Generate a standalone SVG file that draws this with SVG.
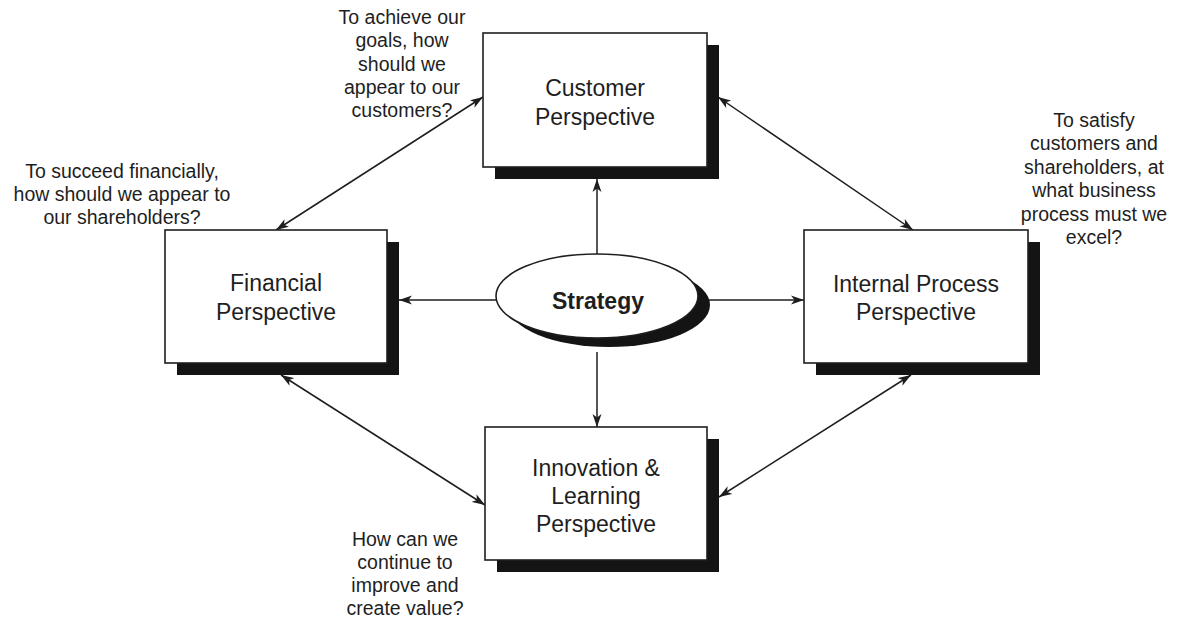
<svg xmlns="http://www.w3.org/2000/svg" width="1181" height="618" viewBox="0 0 1181 618">
  <style>
    .box { fill: #ffffff; stroke: #1e1e1e; stroke-width: 1.6; }
    .shadow { fill: #141414; }
    .label { font-family: "Liberation Sans", Arial, sans-serif; font-size: 23px; fill: #1e1e1e; text-anchor: middle; }
    .note { font-family: "Liberation Sans", Arial, sans-serif; font-size: 19.5px; fill: #1e1e1e; text-anchor: middle; }
    .core { font-family: "Liberation Sans", Arial, sans-serif; font-size: 23px; font-weight: bold; fill: #1e1e1e; text-anchor: middle; }
    .link { fill: none; stroke: #1e1e1e; stroke-width: 1.5; }
  </style>
  <defs>
    <marker id="head" viewBox="0 0 13 10" markerUnits="userSpaceOnUse" markerWidth="13" markerHeight="10" refX="13" refY="5" orient="auto-start-reverse">
      <path d="M0,0.5 L13,5 L0,9.5 L3.5,5 Z" fill="#1e1e1e"/>
    </marker>
  </defs>

  <rect width="1181" height="618" fill="#ffffff"/>

  <!-- connectors -->
  <g id="connectors">
    <line class="link" x1="597" y1="254" x2="597" y2="179" marker-end="url(#head)"/>
    <line class="link" x1="597" y1="352" x2="597" y2="427" marker-end="url(#head)"/>
    <line class="link" x1="497" y1="300" x2="399" y2="300" marker-end="url(#head)"/>
    <line class="link" x1="708" y1="300" x2="804" y2="300" marker-end="url(#head)"/>
    <line class="link" x1="276" y1="230" x2="483" y2="97" marker-start="url(#head)" marker-end="url(#head)"/>
    <line class="link" x1="718" y1="97" x2="913" y2="230" marker-start="url(#head)" marker-end="url(#head)"/>
    <line class="link" x1="281" y1="375" x2="485" y2="505" marker-start="url(#head)" marker-end="url(#head)"/>
    <line class="link" x1="911" y1="375" x2="719" y2="497" marker-start="url(#head)" marker-end="url(#head)"/>
  </g>

  <!-- Customer Perspective -->
  <g id="customer">
    <rect class="shadow" x="495" y="45" width="224" height="134"/>
    <rect class="box" x="483" y="33" width="224" height="134"/>
    <text class="label" x="595" y="96">Customer</text>
    <text class="label" x="595" y="125">Perspective</text>
  </g>

  <!-- Financial Perspective -->
  <g id="financial">
    <rect class="shadow" x="177" y="242" width="222" height="133"/>
    <rect class="box" x="165" y="230" width="222" height="133"/>
    <text class="label" x="276" y="291">Financial</text>
    <text class="label" x="276" y="320">Perspective</text>
  </g>

  <!-- Internal Process Perspective -->
  <g id="internal">
    <rect class="shadow" x="816" y="242" width="224" height="133"/>
    <rect class="box" x="804" y="230" width="224" height="133"/>
    <text class="label" x="916" y="292">Internal Process</text>
    <text class="label" x="916" y="320">Perspective</text>
  </g>

  <!-- Innovation & Learning Perspective -->
  <g id="innovation">
    <rect class="shadow" x="497" y="439" width="222" height="133"/>
    <rect class="box" x="485" y="427" width="222" height="133"/>
    <text class="label" x="596" y="476">Innovation &amp;</text>
    <text class="label" x="596" y="504">Learning</text>
    <text class="label" x="596" y="532">Perspective</text>
  </g>

  <!-- Strategy -->
  <g id="strategy">
    <ellipse class="shadow" cx="609" cy="305" rx="101" ry="42"/>
    <ellipse class="box" cx="597" cy="296" rx="101" ry="42"/>
    <text class="core" x="598" y="309">Strategy</text>
  </g>

  <!-- guiding questions -->
  <g id="note-customer">
    <text class="note" x="402" y="24">To achieve our</text>
    <text class="note" x="402" y="47">goals, how</text>
    <text class="note" x="402" y="71">should we</text>
    <text class="note" x="402" y="94">appear to our</text>
    <text class="note" x="402" y="117">customers?</text>
  </g>
  <g id="note-financial">
    <text class="note" x="122" y="178">To succeed financially,</text>
    <text class="note" x="122" y="201">how should we appear to</text>
    <text class="note" x="122" y="224">our shareholders?</text>
  </g>
  <g id="note-internal">
    <text class="note" x="1094" y="127">To satisfy</text>
    <text class="note" x="1094" y="150">customers and</text>
    <text class="note" x="1094" y="174">shareholders, at</text>
    <text class="note" x="1094" y="197">what business</text>
    <text class="note" x="1094" y="221">process must we</text>
    <text class="note" x="1094" y="244">excel?</text>
  </g>
  <g id="note-innovation">
    <text class="note" x="405" y="546">How can we</text>
    <text class="note" x="405" y="569">continue to</text>
    <text class="note" x="405" y="592">improve and</text>
    <text class="note" x="405" y="615">create value?</text>
  </g>
</svg>
